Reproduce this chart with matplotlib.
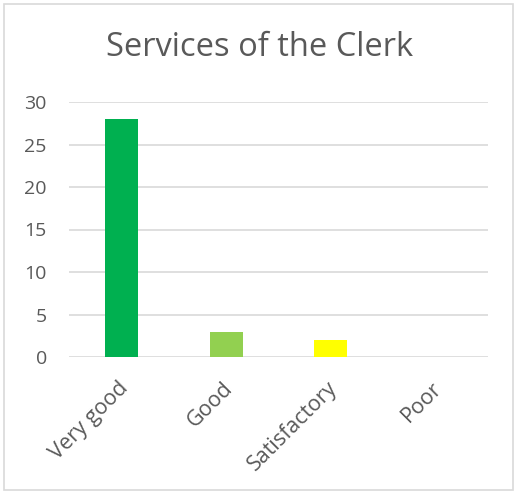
import matplotlib
matplotlib.use("Agg")
import matplotlib.pyplot as plt
import matplotlib.transforms as mt
from matplotlib.patches import Rectangle

categories = ["Very good", "Good", "Satisfactory", "Poor"]
values = [28, 3, 2, 0]
colors = ["#00B050", "#92D050", "#FFFF00", "#FFFF00"]
yticks = [0, 5, 10, 15, 20, 25, 30]
title = "Services of the Clerk"

plt.rcParams['font.family'] = ['Open Sans', 'DejaVu Sans']
text_color = "#595959"

fig = plt.figure(figsize=(5.15, 4.92), dpi=100)
fig.patches.append(Rectangle((4/515, 2/492), 509/515, 486/492, transform=fig.transFigure,
                             fill=False, edgecolor="#D9D9D9", linewidth=1.2))
ax = fig.add_axes([69/515, 1 - 357/492, 419/515, 255/492])

x = list(range(len(categories)))
ax.bar(x, values, width=0.315, color=colors, zorder=3)
ax.set_xlim(-0.5, len(categories) - 0.5)
ax.set_ylim(0, 30)
ax.set_yticks(yticks)
ax.set_yticklabels([str(v) for v in yticks], fontsize=14, color=text_color)
ax.yaxis.grid(True, color="#D9D9D9", linewidth=1.2, zorder=0)
ax.set_xticks(x)
ax.set_xticklabels(categories, rotation=45, ha="right", rotation_mode="anchor",
                   fontsize=15.5, color=text_color)
for s in ax.spines.values():
    s.set_visible(False)
ax.tick_params(axis="both", length=0)
ax.tick_params(axis="y", pad=16)
ax.tick_params(axis="x", pad=15)
offset = mt.ScaledTranslation(-4/100, 0, fig.dpi_scale_trans)
for lbl in ax.get_xticklabels():
    lbl.set_transform(lbl.get_transform() + offset)

fig.text(260/515, 1 - 48/492, title, ha="center", va="center", fontsize=23.5, color=text_color)

fig.savefig("out.png", dpi=100, facecolor="white")
